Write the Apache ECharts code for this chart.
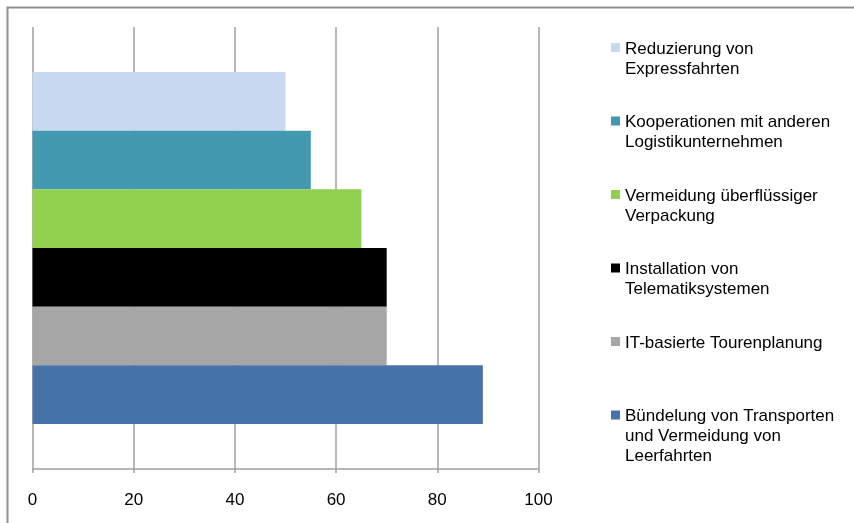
<!DOCTYPE html>
<html>
<head>
<meta charset="utf-8">
<script src="https://cdn.jsdelivr.net/npm/echarts@6/dist/echarts.min.js"></script>
<style>
html,body{margin:0;padding:0;background:#fff;}
#chart{width:854px;height:523px;}
</style>
</head>
<body>
<div id="chart"></div>
<script>
const categories = [''];
const seriesNames = [
  'Reduzierung von\nExpressfahrten',
  'Kooperationen mit anderen\nLogistikunternehmen',
  'Vermeidung überflüssiger\nVerpackung',
  'Installation von\nTelematiksystemen',
  'IT-basierte Tourenplanung',
  'Bündelung von Transporten\nund Vermeidung von\nLeerfahrten'
];
const values = [50, 55, 65, 70, 70, 89];
const colors = ['#C6D9F1', '#4299B0', '#92D050', '#000000', '#A6A6A6', '#4673A8'];
const xTicks = [0, 20, 40, 60, 80, 100];

const chart = echarts.init(document.getElementById('chart'), null, {renderer: 'canvas'});
const font = 'Liberation Sans, Arial, sans-serif';
const lineH = 20;

const series = seriesNames.map((name, i) => ({
  name: name,
  type: 'bar',
  data: [values[i]],
  barGap: '0%',
  barCategoryGap: '20.4%',
  itemStyle: {color: colors[i]},
  silent: true
}));

const legends = seriesNames.map((name, i) => {
  const n = name.split('\n').length;
  const H = n * lineH;
  const yc = 49 + 73.5 * i;
  // square sits beside the first text line; the degenerate edges only fix the box size
  const icon = 'path://M0,0L9,0M0,4L9,4L9,13L0,13ZM0,' + H + 'L9,' + H;
  return {
    data: [{name: name, icon: icon}],
    left: 611,
    top: yc - lineH / 2,
    padding: 0,
    itemWidth: 9,
    itemHeight: H,
    selectedMode: false,
    textStyle: {
      fontFamily: font,
      fontSize: 17,
      lineHeight: lineH,
      color: '#000'
    }
  };
});

chart.setOption({
  animation: false,
  backgroundColor: '#fff',
  graphic: [{
    type: 'rect',
    shape: {x: 7.5, y: 7.5, width: 1000, height: 1000},
    style: {fill: 'none', stroke: '#909090', lineWidth: 2},
    silent: true
  }],
  grid: {left: 32.5, right: 315.5, top: 27, bottom: 54, containLabel: false},
  legend: legends,
  xAxis: {
    type: 'value',
    min: xTicks[0],
    max: xTicks[xTicks.length - 1],
    interval: xTicks[1] - xTicks[0],
    axisLine: {show: true, lineStyle: {color: '#a0a0a0', width: 1.5}},
    axisTick: {show: true, length: 4, lineStyle: {color: '#a0a0a0', width: 1.5}},
    splitLine: {show: true, lineStyle: {color: '#a0a0a0', width: 1.5}},
    axisLabel: {fontFamily: font, fontSize: 17, color: '#000', margin: 23}
  },
  yAxis: {
    type: 'category',
    data: categories,
    axisLine: {show: false},
    axisTick: {show: false},
    axisLabel: {show: false},
    splitLine: {show: false}
  },
  series: series
});
</script>
</body>
</html>
